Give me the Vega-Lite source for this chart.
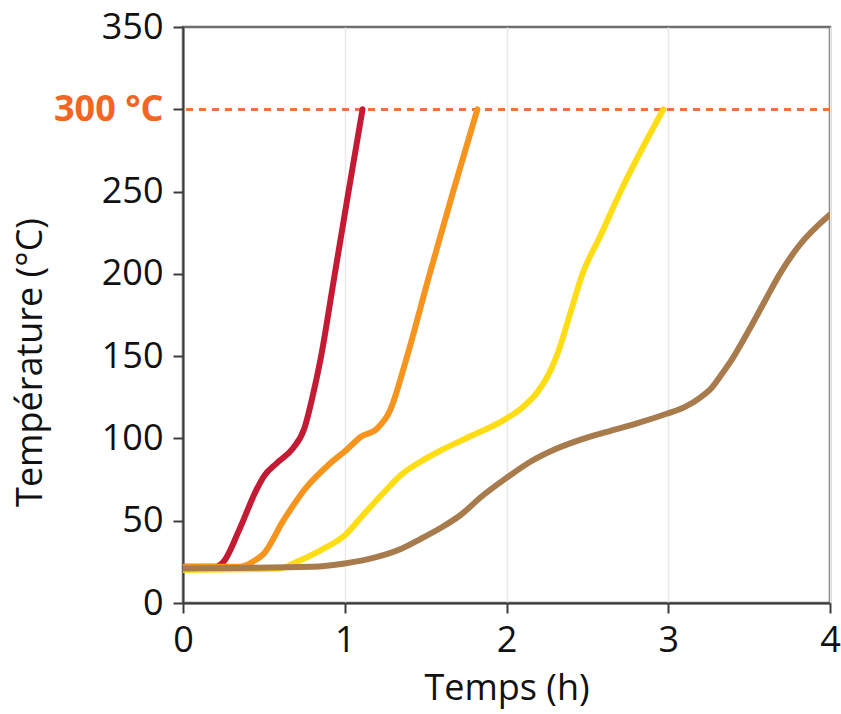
{
  "$schema": "https://vega.github.io/schema/vega-lite/v6.json",
  "autosize": {"type": "none"},
  "padding": {"left": 183, "top": 27, "right": 11, "bottom": 111},
  "width": 647,
  "height": 576,
  "background": "#ffffff",
  "config": {
    "font": "Open Sans",
    "view": {"stroke": "#6e6e6e", "strokeWidth": 2.5},
    "axis": {
      "labelFont": "Open Sans",
      "titleFont": "Open Sans",
      "labelFontSize": 36,
      "titleFontSize": 36,
      "labelColor": "#111111",
      "titleColor": "#111111",
      "titleFontWeight": "normal",
      "domainColor": "#3c3c3c",
      "domainWidth": 2,
      "tickColor": "#3c3c3c",
      "tickWidth": 2,
      "tickSize": 10,
      "gridColor": "#e9e9e9",
      "gridWidth": 1.5
    }
  },
  "data": {
    "values": [
      {"essai": "rouge", "t": 0, "T": 22},
      {"essai": "rouge", "t": 0.2, "T": 22},
      {"essai": "rouge", "t": 0.25, "T": 25},
      {"essai": "rouge", "t": 0.35, "T": 45},
      {"essai": "rouge", "t": 0.45, "T": 68},
      {"essai": "rouge", "t": 0.5, "T": 77},
      {"essai": "rouge", "t": 0.58, "T": 85},
      {"essai": "rouge", "t": 0.68, "T": 94},
      {"essai": "rouge", "t": 0.75, "T": 106},
      {"essai": "rouge", "t": 0.8, "T": 125},
      {"essai": "rouge", "t": 0.85, "T": 148},
      {"essai": "rouge", "t": 0.935, "T": 198},
      {"essai": "rouge", "t": 1.02, "T": 248},
      {"essai": "rouge", "t": 1.11, "T": 300},

      {"essai": "orange", "t": 0, "T": 22},
      {"essai": "orange", "t": 0.35, "T": 22},
      {"essai": "orange", "t": 0.43, "T": 25},
      {"essai": "orange", "t": 0.5, "T": 30},
      {"essai": "orange", "t": 0.62, "T": 50},
      {"essai": "orange", "t": 0.76, "T": 70},
      {"essai": "orange", "t": 0.9, "T": 84},
      {"essai": "orange", "t": 1.01, "T": 93},
      {"essai": "orange", "t": 1.1, "T": 101},
      {"essai": "orange", "t": 1.2, "T": 106},
      {"essai": "orange", "t": 1.28, "T": 117},
      {"essai": "orange", "t": 1.38, "T": 148},
      {"essai": "orange", "t": 1.525, "T": 200},
      {"essai": "orange", "t": 1.67, "T": 250},
      {"essai": "orange", "t": 1.82, "T": 300},

      {"essai": "jaune", "t": 0, "T": 20},
      {"essai": "jaune", "t": 0.6, "T": 21},
      {"essai": "jaune", "t": 0.68, "T": 24},
      {"essai": "jaune", "t": 0.85, "T": 32},
      {"essai": "jaune", "t": 1.01, "T": 42},
      {"essai": "jaune", "t": 1.1, "T": 52},
      {"essai": "jaune", "t": 1.24, "T": 67},
      {"essai": "jaune", "t": 1.35, "T": 78},
      {"essai": "jaune", "t": 1.47, "T": 86},
      {"essai": "jaune", "t": 1.6, "T": 93},
      {"essai": "jaune", "t": 1.77, "T": 101},
      {"essai": "jaune", "t": 1.98, "T": 111},
      {"essai": "jaune", "t": 2.1, "T": 119},
      {"essai": "jaune", "t": 2.19, "T": 128},
      {"essai": "jaune", "t": 2.25, "T": 137},
      {"essai": "jaune", "t": 2.31, "T": 150},
      {"essai": "jaune", "t": 2.4, "T": 178},
      {"essai": "jaune", "t": 2.47, "T": 200},
      {"essai": "jaune", "t": 2.58, "T": 223},
      {"essai": "jaune", "t": 2.7, "T": 249},
      {"essai": "jaune", "t": 2.97, "T": 300},

      {"essai": "brun", "t": 0, "T": 21},
      {"essai": "brun", "t": 0.8, "T": 22},
      {"essai": "brun", "t": 1.0, "T": 24},
      {"essai": "brun", "t": 1.2, "T": 28},
      {"essai": "brun", "t": 1.35, "T": 33},
      {"essai": "brun", "t": 1.47, "T": 39},
      {"essai": "brun", "t": 1.6, "T": 46},
      {"essai": "brun", "t": 1.71, "T": 53},
      {"essai": "brun", "t": 1.85, "T": 65},
      {"essai": "brun", "t": 2.0, "T": 76},
      {"essai": "brun", "t": 2.15, "T": 86},
      {"essai": "brun", "t": 2.29, "T": 93},
      {"essai": "brun", "t": 2.45, "T": 99},
      {"essai": "brun", "t": 2.62, "T": 104},
      {"essai": "brun", "t": 2.8, "T": 109},
      {"essai": "brun", "t": 2.99, "T": 115},
      {"essai": "brun", "t": 3.1, "T": 119},
      {"essai": "brun", "t": 3.2, "T": 125},
      {"essai": "brun", "t": 3.27, "T": 131},
      {"essai": "brun", "t": 3.33, "T": 139},
      {"essai": "brun", "t": 3.4, "T": 149},
      {"essai": "brun", "t": 3.5, "T": 166},
      {"essai": "brun", "t": 3.6, "T": 184},
      {"essai": "brun", "t": 3.69, "T": 200},
      {"essai": "brun", "t": 3.8, "T": 216},
      {"essai": "brun", "t": 4.0, "T": 236}
    ]
  },
  "layer": [
    {
      "mark": {"type": "rule", "color": "#f2703f", "strokeWidth": 2, "strokeDash": [7, 6]},
      "encoding": {"y": {"datum": 300, "type": "quantitative"}}
    },
    {
      "mark": {"type": "line", "strokeWidth": 6, "strokeCap": "round", "strokeJoin": "round", "interpolate": "monotone", "clip": true},
      "encoding": {
        "x": {
          "field": "t",
          "type": "quantitative",
          "title": "Temps (h)",
          "scale": {"domain": [0, 4], "nice": false},
          "axis": {
            "values": [0, 0.5, 1, 1.5, 2, 2.5, 3, 3.5, 4],
            "format": "d",
            "labelExpr": "datum.value % 1 === 0 ? datum.label : ''",
            "labelFlush": false,
            "labelPadding": 10,
            "titlePadding": 13,
            "gridColor": {"condition": {"test": "datum.value % 1 !== 0", "value": "transparent"}, "value": "#e9e9e9"}
          }
        },
        "y": {
          "field": "T",
          "type": "quantitative",
          "title": "Température (°C)",
          "scale": {"domain": [0, 350], "nice": false},
          "axis": {
            "values": [0, 50, 100, 150, 200, 250, 300, 350],
            "labelExpr": "datum.value === 300 ? '300 °C' : datum.label",
            "labelColor": {"condition": {"test": "datum.value === 300", "value": "#f26522"}, "value": "#111111"},
            "labelFontWeight": {"condition": {"test": "datum.value === 300", "value": "bold"}, "value": "normal"},
            "labelPadding": 10,
            "titleX": -134,
            "titleY": 335,
            "titleAlign": "center",
            "titleBaseline": "bottom"
          }
        },
        "color": {
          "field": "essai",
          "type": "nominal",
          "legend": null,
          "scale": {
            "domain": ["rouge", "orange", "jaune", "brun"],
            "range": ["#c41a33", "#f7941d", "#ffdd15", "#a87b4d"]
          }
        },
        "order": {"field": "t", "type": "quantitative"}
      }
    }
  ]
}
